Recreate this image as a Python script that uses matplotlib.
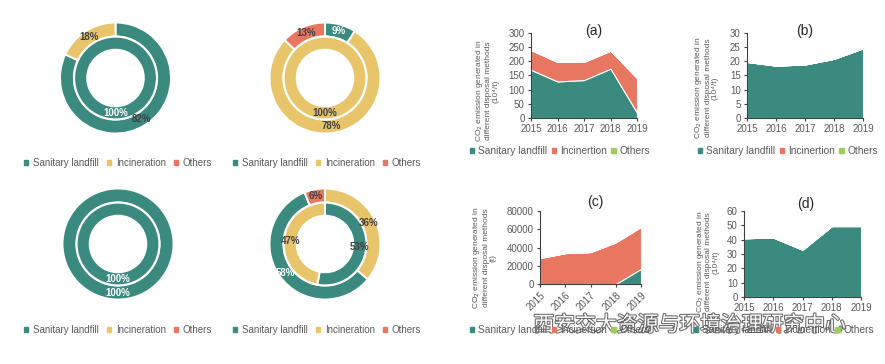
import numpy as np
import matplotlib.pyplot as plt
import matplotlib.patheffects as pe
from matplotlib.patches import Patch

plt.rcParams['font.family'] = ['Liberation Sans', 'DejaVu Sans']

# ---- data ----
categories = ["Sanitary landfill", "Incineration", "Others"]
area_labels = ["Sanitary landfill", "Incinertion", "Others"]

# donut rings (share of each category, %)
donut_outer = [[82, 18, 0], [9, 78, 13], [100, 0, 0], [58, 36, 6]]
donut_inner = [[100, 0, 0], [0, 100, 0], [100, 0, 0], [53, 47, 0]]
# order in which the categories are drawn clockwise from 12 o'clock
outer_order = [[0, 1, 2], [0, 1, 2], [0, 1, 2], [1, 0, 2]]
inner_order = [[0, 1, 2], [0, 1, 2], [0, 1, 2], [0, 1, 2]]

years = [2015, 2016, 2017, 2018, 2019]
a_landfill = [170, 129, 134, 174, 19]
a_incin = [70, 69, 64, 64, 122]
b_landfill = [19.8, 18.5, 18.9, 20.9, 24.6]
c_landfill = [0, 0, 0, 0, 16600]
c_incin = [28500, 33900, 35000, 45700, 46100]
d_landfill = [41, 41.5, 33, 49.5, 49.5]
zeros = [0, 0, 0, 0, 0]

area_data = [
    ([a_landfill, a_incin, zeros], [0, 50, 100, 150, 200, 250, 300], "(a)", "(10\u2074/t)"),
    ([b_landfill, zeros, zeros], [0, 5, 10, 15, 20, 25, 30], "(b)", "(10\u2074/t)"),
    ([c_landfill, c_incin, zeros], [0, 20000, 40000, 60000, 80000], "(c)", "(t)"),
    ([d_landfill, zeros, zeros], [0, 10, 20, 30, 40, 50, 60], "(d)", "(10\u2074/t)"),
]

TEAL = '#3a8a80'
YELLOW = '#e8c46a'
RED = '#e87762'
GREEN = '#9dcb5c'
GRAY = '#595959'
DARK = '#404040'
colors = [TEAL, YELLOW, RED]
area_colors = [TEAL, RED, GREEN]

W, H = 885, 364
fig = plt.figure(figsize=(W / 100, H / 100), dpi=100)


def px_axes(l, t, r, b):
    return fig.add_axes([l / W, 1 - b / H, (r - l) / W, (b - t) / H])


def px(x, y):
    return x / W, 1 - y / H


# ---- donuts ----
centers = [(115.5, 78), (325, 78), (118, 244), (325, 244)]
R = 55.5
white_labels = {(0, 'inner', 0), (1, 'outer', 0), (2, 'outer', 0), (2, 'inner', 0), (3, 'outer', 0)}

for i, (cx, cy) in enumerate(centers):
    ax = px_axes(cx - R, cy - R, cx + R, cy + R)
    rings = [('outer', donut_outer[i], outer_order[i], 1.0, 0.25, 0.875),
             ('inner', donut_inner[i], inner_order[i], 0.745, 0.235, 0.63)]
    for ring, vals, order, rad, wid, lab_r in rings:
        idx = [k for k in order if vals[k] > 0]
        v = [vals[k] for k in idx]
        ax.pie(v, radius=rad, startangle=90, counterclock=False,
               colors=[colors[k] for k in idx],
               wedgeprops=dict(width=wid, edgecolor='white', linewidth=1.4))
        # percentage labels at the middle of each wedge
        cum = 0
        for k, val in zip(idx, v):
            mid = (cum + val / 2) / 100 * 2 * np.pi
            cum += val
            c = 'white' if (i, ring, k) in white_labels else DARK
            ax.text(lab_r * np.sin(mid), lab_r * np.cos(mid), f"{val}%",
                    ha='center', va='center', fontsize=7, fontweight='bold', color=c)
    ax.set_xlim(-1, 1)
    ax.set_ylim(-1, 1)
    ax.set_aspect('equal')
    ax.axis('off')

handles = [Patch(color=c) for c in colors]
for lx, ly in [(118, 163), (327, 163), (118, 330), (327, 330)]:
    fig.legend(handles, categories, loc='center', bbox_to_anchor=px(lx, ly),
               ncol=3, frameon=False, fontsize=7, labelcolor=GRAY,
               handlelength=0.45, handleheight=0.45, handletextpad=0.5,
               columnspacing=0.8, borderpad=0)

# ---- area charts ----
boxes = [(531, 33, 637, 118), (747, 33, 863, 118), (540, 211, 641, 284), (744, 211, 861, 297)]
title_pos = [(594, 31), (805, 31), (595, 202), (806, 204)]
ylab_pos = [(487, 91), (706, 88), (484, 258), (707, 262)]
leg_pos = [(560, 151), (788, 151), (560, 330), (784, 330)]

for j, (series, yt, title, unit) in enumerate(area_data):
    ax = px_axes(*boxes[j])
    ax.stackplot(years, *series, colors=area_colors, edgecolor='white', linewidth=0.8)
    ax.set_xlim(years[0], years[-1])
    ax.set_ylim(yt[0], yt[-1])
    ax.set_yticks(yt)
    ax.set_xticks(years)
    for s in ['top', 'right']:
        ax.spines[s].set_visible(False)
    for s in ['left', 'bottom']:
        ax.spines[s].set_color(DARK)
        ax.spines[s].set_linewidth(0.8)
    ax.tick_params(colors=DARK, labelcolor=GRAY, labelsize=7, length=2.5, width=0.8, pad=2)
    if j == 2:
        plt.setp(ax.get_xticklabels(), rotation=45, ha='right', rotation_mode='anchor')
    fig.text(*px(*title_pos[j]), title, ha='center', va='center', fontsize=10, color='#262626')
    fig.text(*px(*ylab_pos[j]),
             "CO$_2$ emission generated in\ndifferent disposal methods\n" + unit,
             rotation=90, ha='center', va='center', multialignment='center',
             fontsize=6, color=GRAY, linespacing=1.0)
    fig.legend([Patch(color=c) for c in area_colors], area_labels, loc='center',
               bbox_to_anchor=px(*leg_pos[j]), ncol=3, frameon=False, fontsize=7.3,
               labelcolor=GRAY, handlelength=0.45, handleheight=0.45,
               handletextpad=0.4, columnspacing=0.4, borderpad=0)

# watermark
fig.text(*px(690, 325), "西安交大资源与环境治理研究中心", ha='center', va='center',
         fontsize=15, color='white', family=['Noto Sans CJK SC', 'DejaVu Sans'],
         path_effects=[pe.withStroke(linewidth=1.5, foreground='#666666')])

fig.savefig('out.png', dpi=100, facecolor='white')
